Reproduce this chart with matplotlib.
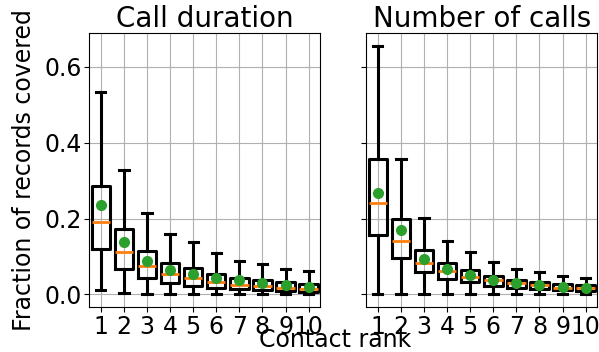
import matplotlib
matplotlib.use('Agg')
import matplotlib.pyplot as plt

ranks = [1, 2, 3, 4, 5, 6, 7, 8, 9, 10]

# call duration: whisker low, Q1, median, Q3, whisker high, mean
dur_lo = [0.013, 0.004, 0.0, 0.0, 0.0, 0.0, 0.0, 0.0, 0.0, 0.0]
dur_q1 = [0.120, 0.067, 0.044, 0.030, 0.023, 0.018, 0.014, 0.011, 0.008, 0.006]
dur_med = [0.190, 0.111, 0.075, 0.053, 0.043, 0.034, 0.026, 0.022, 0.017, 0.015]
dur_q3 = [0.287, 0.172, 0.114, 0.083, 0.070, 0.054, 0.044, 0.039, 0.032, 0.028]
dur_hi = [0.534, 0.328, 0.216, 0.159, 0.139, 0.110, 0.089, 0.081, 0.066, 0.061]
dur_mean = [0.236, 0.139, 0.089, 0.065, 0.054, 0.044, 0.037, 0.031, 0.025, 0.021]

# number of calls
num_lo = [0.0, 0.0, 0.0, 0.0, 0.0, 0.0, 0.0, 0.0, 0.0, 0.0]
num_q1 = [0.158, 0.095, 0.058, 0.042, 0.032, 0.023, 0.018, 0.014, 0.011, 0.009]
num_med = [0.241, 0.140, 0.084, 0.061, 0.046, 0.037, 0.029, 0.024, 0.018, 0.016]
num_q3 = [0.358, 0.200, 0.118, 0.083, 0.065, 0.050, 0.039, 0.034, 0.027, 0.025]
num_hi = [0.656, 0.358, 0.202, 0.141, 0.111, 0.085, 0.068, 0.059, 0.048, 0.043]
num_mean = [0.267, 0.171, 0.093, 0.067, 0.051, 0.039, 0.031, 0.025, 0.021, 0.018]

titles = ['Call duration', 'Number of calls']


def make_stats(lo, q1, med, q3, hi, mean):
    return [dict(whislo=a, q1=b, med=c, q3=d, whishi=e, mean=f, fliers=[])
            for a, b, c, d, e, f in zip(lo, q1, med, q3, hi, mean)]


series = [make_stats(dur_lo, dur_q1, dur_med, dur_q3, dur_hi, dur_mean),
          make_stats(num_lo, num_q1, num_med, num_q3, num_hi, num_mean)]

fig, axs = plt.subplots(1, 2, sharey=True, figsize=(5.99, 3.52), dpi=100)
fig.subplots_adjust(left=0.149, right=0.997, top=0.906, bottom=0.128,
                    wspace=0.2)

lw = 2.2
for ax, stats, title in zip(axs, series, titles):
    ax.bxp(stats, positions=ranks, widths=0.8, showmeans=True,
           showfliers=False,
           boxprops=dict(color='k', linewidth=lw),
           whiskerprops=dict(color='k', linewidth=lw),
           capprops=dict(color='k', linewidth=lw),
           medianprops=dict(color='#ff7f0e', linewidth=2),
           meanprops=dict(marker='o', markerfacecolor='#2ca02c',
                          markeredgecolor='#2ca02c', markersize=7))
    ax.set_title(title, fontsize=20, pad=3)
    ax.grid(True, color='#b0b0b0', linewidth=0.8)
    ax.set_axisbelow(True)
    ax.set_xticks(ranks)
    ax.set_xticklabels([str(r) for r in ranks])
    ax.tick_params(labelsize=17, pad=2)
    ax.set_yticks([0.0, 0.2, 0.4, 0.6])

axs[0].set_ylabel('Fraction of records covered', fontsize=17, labelpad=6)
fig.text(0.56, 0.0, 'Contact rank', ha='center', va='bottom', fontsize=17)

fig.savefig('out.png', dpi=100)
